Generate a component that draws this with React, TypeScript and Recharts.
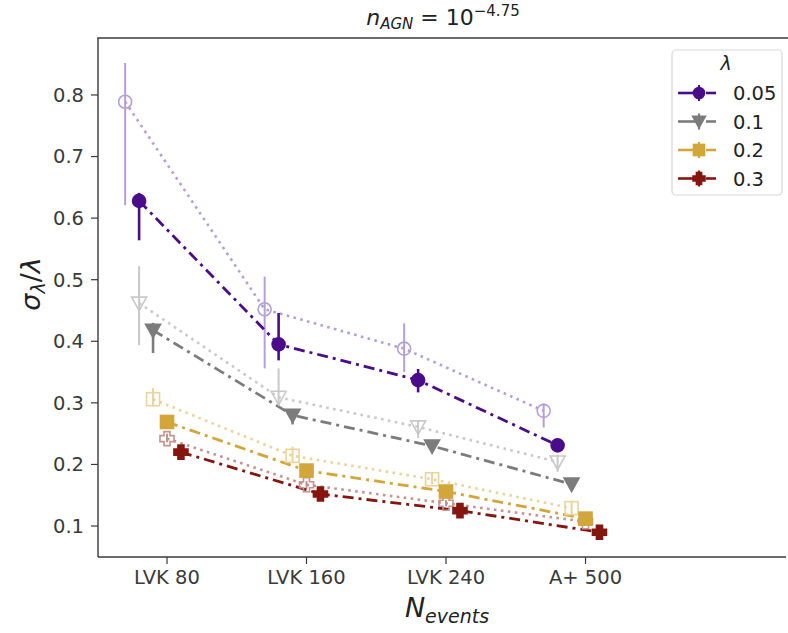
import React from 'react';
import { LineChart, Line, XAxis, YAxis, ErrorBar } from 'recharts';

const categories = ['LVK 80', 'LVK 160', 'LVK 240', 'A+ 500'];
const categoryPos = [1, 2, 3, 4];
const yTicks = [0.1, 0.2, 0.3, 0.4, 0.5, 0.6, 0.7, 0.8];
const lambdaLabels = ['0.05', '0.1', '0.2', '0.3'];

// faint (open markers, dotted) and solid (filled, dash-dot) runs
const purpleFaint = [0.789, 0.452, 0.388, 0.287];
const purpleFaintErr = [[0.168, 0.063], [0.096, 0.053], [0.038, 0.041], [0.027, 0.012]];
const purpleSolid = [0.628, 0.395, 0.337, 0.231];
const purpleSolidErr = [[0.064, 0.013], [0.026, 0.051], [0.02, 0.018], [0.005, 0.005]];

const grayFaint = [0.462, 0.309, 0.261, 0.204];
const grayFaintErr = [[0.068, 0.06], [0.016, 0.047], [0.018, 0.011], [0.016, 0.012]];
const graySolid = [0.418, 0.28, 0.23, 0.168];
const graySolidErr = [[0.037, 0.012], [0.015, 0.01], [0.008, 0.008], [0.005, 0.005]];

const goldFaint = [0.306, 0.214, 0.176, 0.129];
const goldFaintErr = [[0.012, 0.018], [0.009, 0.015], [0.008, 0.01], [0.01, 0.012]];
const goldSolid = [0.269, 0.19, 0.156, 0.112];
const goldSolidErr = [[0.006, 0.008], [0.005, 0.005], [0.005, 0.005], [0.004, 0.004]];

const redFaint = [0.242, 0.167, 0.137, 0.107];
const redFaintErr = [[0.006, 0.008], [0.006, 0.006], [0.005, 0.005], [0.004, 0.004]];
const redSolid = [0.22, 0.152, 0.125, 0.09];
const redSolidErr = [[0.008, 0.008], [0.006, 0.006], [0.005, 0.005], [0.005, 0.005]];

const faintShift = [-0.3, -0.2, -0.1, 0];
const solidShift = [-0.2, -0.1, 0, 0.1];

const COLORS = ['#4b0c8a', '#7c7c7c', '#d2a63a', '#85160f'];
const FAINT = ['#b59fd9', '#c9c9c9', '#ead49c', '#c49490'];
const SHAPES = ['circle', 'tri', 'square', 'plus'];

const build = (vals: number[], errs: number[][], shift: number) =>
  vals.map((v, i) => ({ x: categoryPos[i] + shift, y: v, err: errs[i] }));

function Marker({ shape, cx, cy, color, filled, s = 1 }: any) {
  const fill = filled ? color : 'none';
  const sw = 1.6;
  if (shape === 'circle') return <circle cx={cx} cy={cy} r={6.5 * s} fill={fill} stroke={color} strokeWidth={sw} />;
  if (shape === 'tri') {
    const a = 7.5 * s;
    return <polygon points={`${cx - a},${cy - a * 0.8} ${cx + a},${cy - a * 0.8} ${cx},${cy + a}`} fill={fill} stroke={color} strokeWidth={sw} strokeLinejoin="miter" />;
  }
  if (shape === 'square') {
    const a = 6.5 * s;
    return <rect x={cx - a} y={cy - a} width={2 * a} height={2 * a} fill={fill} stroke={color} strokeWidth={sw} />;
  }
  const L = 7 * s, w = 3 * s;
  const pts = [
    [-w, -L], [w, -L], [w, -w], [L, -w], [L, w], [w, w], [w, L], [-w, L], [-w, w], [-L, w], [-L, -w], [-w, -w],
  ].map(([dx, dy]) => `${cx + dx},${cy + dy}`).join(' ');
  return <polygon points={pts} fill={fill} stroke={color} strokeWidth={sw} />;
}

const dotFn = (shape: string, color: string, filled: boolean) => (p: any) => (
  <Marker key={`${shape}-${filled}-${p.index}`} shape={shape} cx={p.cx} cy={p.cy} color={color} filled={filled} />
);

const faintSets = [
  build(purpleFaint, purpleFaintErr, faintShift[0]),
  build(grayFaint, grayFaintErr, faintShift[1]),
  build(goldFaint, goldFaintErr, faintShift[2]),
  build(redFaint, redFaintErr, faintShift[3]),
];
const solidSets = [
  build(purpleSolid, purpleSolidErr, solidShift[0]),
  build(graySolid, graySolidErr, solidShift[1]),
  build(goldSolid, goldSolidErr, solidShift[2]),
  build(redSolid, redSolidErr, solidShift[3]),
];

const FONT = 'DejaVu Sans, sans-serif';
const AX = '#3a3a3a';

export default function App() {
  return (
    <div style={{ position: 'absolute', left: 0, top: 0, width: 788, height: 633, background: '#fff' }}>
      <LineChart width={788} height={633} margin={{ top: 38, right: 2, bottom: 36, left: 0 }}>
        <XAxis
          type="number"
          dataKey="x"
          domain={[0.5054, 5.437]}
          ticks={categoryPos}
          allowDataOverflow
          tickFormatter={(v: number) => categories[categoryPos.indexOf(v)] ?? ''}
          height={40}
          tickSize={7}
          tickMargin={6}
          axisLine={{ stroke: AX, strokeWidth: 1.4 }}
          tickLine={{ stroke: AX, strokeWidth: 1.2 }}
          tick={{ fill: '#3a3a3a', fontSize: 19.5, fontFamily: FONT }}
        />
        <YAxis
          type="number"
          dataKey="y"
          domain={[0.0497, 0.8925]}
          ticks={yTicks}
          allowDataOverflow
          width={98}
          tickSize={7}
          tickMargin={7}
          tickFormatter={(v: number) => v.toFixed(1)}
          axisLine={{ stroke: AX, strokeWidth: 1.4 }}
          tickLine={{ stroke: AX, strokeWidth: 1.2 }}
          tick={{ fill: '#3a3a3a', fontSize: 19.5, fontFamily: FONT }}
        />
        {faintSets.map((d, i) => (
          <Line
            key={`f${i}`}
            data={d}
            dataKey="y"
            stroke={FAINT[i]}
            strokeWidth={2.6}
            strokeDasharray="2.6 4.4"
            dot={dotFn(SHAPES[i], FAINT[i], false)}
            activeDot={false}
            isAnimationActive={false}
          >
            <ErrorBar dataKey="err" direction="y" width={0} stroke={FAINT[i]} strokeWidth={2} />
          </Line>
        ))}
        {solidSets.map((d, i) => (
          <Line
            key={`s${i}`}
            data={d}
            dataKey="y"
            stroke={COLORS[i]}
            strokeWidth={2.8}
            strokeDasharray="11 5 3 5"
            dot={dotFn(SHAPES[i], COLORS[i], true)}
            activeDot={false}
            isAnimationActive={false}
          >
            <ErrorBar dataKey="err" direction="y" width={0} stroke={COLORS[i]} strokeWidth={2.6} />
          </Line>
        ))}
      </LineChart>
      <svg width={788} height={633} style={{ position: 'absolute', left: 0, top: 0, pointerEvents: 'none' }}>
        <line x1={97.3} x2={788} y1={38} y2={38} stroke={AX} strokeWidth={1.4} />
        <text x={443} y={25} textAnchor="middle" fontFamily={FONT} fontSize={22} fill="#222">
          <tspan fontStyle="italic">n</tspan>
          <tspan fontStyle="italic" fontSize={15} dy={4}>AGN</tspan>
          <tspan dy={-4}> = 10</tspan>
          <tspan fontSize={15} dy={-9}>−4.75</tspan>
        </text>
        <text x={447} y={617} textAnchor="middle" fontFamily={FONT} fontSize={27} fill="#222">
          <tspan fontStyle="italic">N</tspan>
          <tspan fontStyle="italic" fontSize={19} dy={6}>events</tspan>
        </text>
        <text transform="translate(40,284) rotate(-90)" textAnchor="middle" fontFamily={FONT} fontSize={27} fill="#222">
          <tspan fontStyle="italic">σ</tspan>
          <tspan fontStyle="italic" fontSize={19} dy={5}>λ</tspan>
          <tspan dy={-5}>/</tspan>
          <tspan fontStyle="italic">λ</tspan>
        </text>
        <rect x={672} y={50} width={110} height={145} rx={4} fill="#fff" fillOpacity={0.85} stroke="#d8d8d8" strokeWidth={1.2} />
        <text x={726} y={70} textAnchor="middle" fontFamily={FONT} fontSize={19} fontStyle="italic" fill="#222">λ</text>
        {lambdaLabels.map((lab, i) => {
          const y = 93 + i * 28.5;
          return (
            <g key={lab}>
              <line x1={678} x2={699} y1={y} y2={y} stroke={COLORS[i]} strokeWidth={2.6} />
              <line x1={706} x2={716} y1={y} y2={y} stroke={COLORS[i]} strokeWidth={2.6} />
              <line x1={699} x2={699} y1={y - 8} y2={y + 8} stroke={COLORS[i]} strokeWidth={2.2} />
              <Marker shape={SHAPES[i]} cx={699} cy={y} color={COLORS[i]} filled s={0.85} />
              <text x={733} y={y + 7} fontFamily={FONT} fontSize={19.5} fill="#222">{lab}</text>
            </g>
          );
        })}
      </svg>
    </div>
  );
}
